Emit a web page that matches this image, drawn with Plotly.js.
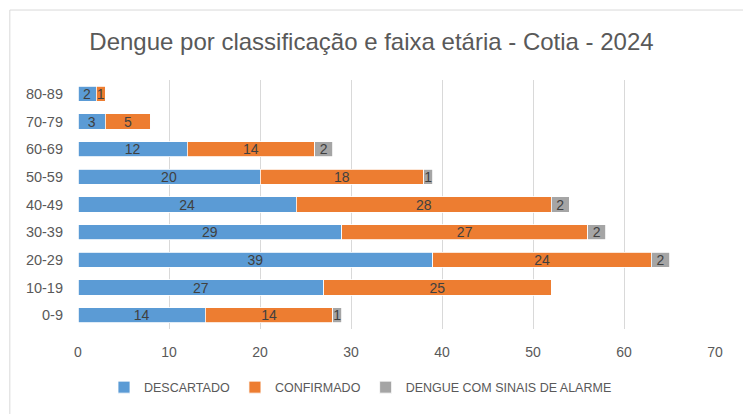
<!DOCTYPE html>
<html><head><meta charset="utf-8">
<script src="https://cdn.plot.ly/plotly-3.0.1.min.js"></script>
<style>html,body{margin:0;padding:0;background:#fff}#c{width:743px;height:414px}</style>
</head><body><div id="c"></div>
<script>
const categories = ["0-9","10-19","20-29","30-39","40-49","50-59","60-69","70-79","80-89"];
const descartado = [14,27,39,29,24,20,12,3,2];
const confirmado = [14,25,24,27,28,18,14,5,1];
const alarme     = [1,0,2,2,2,1,2,0,0];
const seriesNames = ["DESCARTADO","CONFIRMADO","DENGUE COM SINAIS DE ALARME"];
const colors = ["#5B9BD5","#ED7D31","#A5A5A5"];
const xTicks = [0,10,20,30,40,50,60,70];

const FF = "Liberation Sans, Arial, sans-serif";
const txtFont = {family:FF, size:14, color:"#404040"};
function mk(vals, name, color){
  return {type:'bar', orientation:'h', y:categories, x:vals, name:name,
    marker:{color:color, line:{color:'#ffffff', width:0.8}},
    text: vals.map(v => v>0 ? String(v) : ''), textposition:'inside', textangle:0,
    insidetextanchor:'middle', constraintext:'none', cliponaxis:false,
    textfont:txtFont, insidetextfont:txtFont, width:0.55, hoverinfo:'none'};
}
const data = [mk(descartado,seriesNames[0],colors[0]), mk(confirmado,seriesNames[1],colors[1]), mk(alarme,seriesNames[2],colors[2])];
const layout = {
  width:743, height:414, barmode:'stack', paper_bgcolor:'#fff', plot_bgcolor:'#fff',
  margin:{l:78, r:28, t:80, b:82},
  title:{text:'Dengue por classificação e faixa etária - Cotia - 2024', x:0.5, xanchor:'center', y:0.9, yanchor:'middle',
    font:{family:FF, size:24, color:'#595959'}},
  xaxis:{range:[0,70], tickvals:xTicks, showgrid:true, gridcolor:'#D9D9D9', gridwidth:1, zeroline:false, automargin:false,
    showline:false, ticks:'', ticklabelstandoff:13, tickfont:{family:FF, size:14, color:'#595959'}, fixedrange:true},
  yaxis:{showgrid:false, zeroline:false, showline:false, ticks:'', ticklabelstandoff:14, automargin:false,
    tickfont:{family:FF, size:14.5, color:'#595959'}, range:[-0.5,8.5]},
  legend:{orientation:'h', x:(104-78)/637, xanchor:'left', y:-0.235, yanchor:'middle', traceorder:'normal', itemwidth:30,
    font:{family:FF, size:12.5, color:'#595959'}},
  shapes:[{type:'rect', xref:'paper', yref:'paper', x0:-0.107, x1:1.2, y0:-0.4, y1:1.281,
    line:{color:'#D9D9D9', width:1}, layer:'below'}],
  showlegend:true
};
Plotly.newPlot('c', data, layout, {displayModeBar:false, staticPlot:true});
</script></body></html>
